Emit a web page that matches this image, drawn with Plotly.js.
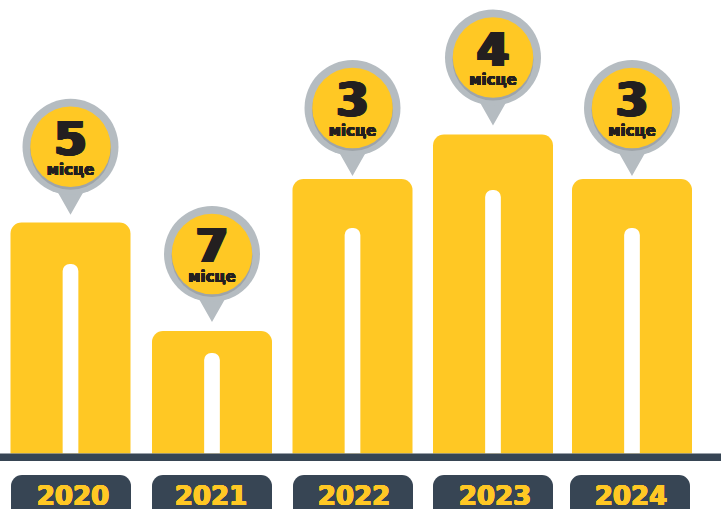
<!DOCTYPE html>
<html><head><meta charset="utf-8"><script src="https://cdn.plot.ly/plotly-3.0.1.min.js"></script>
<style>html,body{margin:0;padding:0;background:#fff}#c{width:721px;height:509px}</style></head>
<body><div id="c"></div>
<script>
const years = ['2020','2021','2022','2023','2024'];
const heights = [231, 122.5, 274.5, 319, 274.5];
const slotHeights = [189.5, 100.5, 225.5, 263.5, 225.5];
const places = ['5','7','3','4','3'];
const placeWord = 'місце';

const YELLOW='#ffc824', SLATE='#374554', GREY='#b5bcc1', GREY_D='#9ea4a9', INK='#231f20';
const PITCH=140.4, X0=71.2;
const px = p => p/PITCH;
const idx = years.map((_,i)=>i);
const barNudge=[-0.7,0.4,0.5,0.6,-0.8];
const pillNudge=[-0.2,0.4,1,0.6,-2.8];
const labelNudge=[1.8,-0.6,2,2.6,-1.8];
const pinGap=[7.7,9,3,9,3];
const bx=idx.map(i=>i+px(barNudge[i]));
const tip=idx.map(i=>heights[i]+pinGap[i]);
const tri={x:[],y:[]};
idx.forEach(i=>{tri.x.push(bx[i]-px(13.6),bx[i]+px(13.6),bx[i],bx[i]-px(13.6),null);
  tri.y.push(tip[i]+24,tip[i]+24,tip[i],tip[i]+24,null);});
const cy=idx.map(i=>tip[i]+68);
const top2={xaxis:'x2',yaxis:'y2',hoverinfo:'skip',showlegend:false};
const mark=(dy,size,color)=>({type:'scatter',mode:'markers',x:bx,y:cy.map(v=>v+dy),
  marker:{size,color,line:{width:0}},...top2});
const thick=(w,c)=>[1,0.75,0.5,0.25].flatMap(k=>[`${w*k}px 0 0 ${c}`,`-${w*k}px 0 0 ${c}`]).join(',');
const xRange=[-X0/PITCH,(721-X0)/PITCH], yRange=[-55.5,453.5];
const traces=[
 {type:'bar',x:bx,y:heights,width:px(120),marker:{color:YELLOW,cornerradius:11,line:{width:0}},hoverinfo:'x+y',showlegend:false},
 {type:'bar',x:idx.map(i=>i+px(pillNudge[i])),y:idx.map(()=>-21.5+70),base:-70,width:px(120),marker:{color:SLATE,cornerradius:11,line:{width:0}},hoverinfo:'skip',showlegend:false},
 {type:'bar',x:bx,y:slotHeights,width:px(15.7),marker:{color:'#fff',cornerradius:7.5,line:{width:0}},...top2},
 {type:'scatter',mode:'lines',x:tri.x,y:tri.y,fill:'toself',fillcolor:GREY,line:{width:0,color:GREY},...top2},
 mark(0,96,GREY),
 mark(-2.5,81,GREY_D),
 mark(0,80.5,YELLOW),
 {type:'scatter',mode:'text',x:bx,y:cy.map(v=>v+3.5),text:places,textposition:'middle center',
  textfont:{family:'DejaVu Sans',size:46,color:INK,weight:700,shadow:thick(2,INK)},...top2},
 {type:'scatter',mode:'text',x:bx,y:cy.map(v=>v-24),text:idx.map(()=>placeWord),textposition:'middle center',
  textfont:{family:'DejaVu Sans',size:15,color:INK,weight:700,shadow:thick(0.4,INK)},...top2}
];
const layout={width:721,height:509,margin:{l:0,r:0,t:0,b:0,pad:0},paper_bgcolor:'#fff',plot_bgcolor:'#fff',
 barmode:'overlay',showlegend:false,
 xaxis:{range:xRange,showgrid:false,zeroline:false,showline:false,ticks:'',
   tickmode:'array',tickvals:idx.map(i=>i+px(labelNudge[i])),ticktext:years,ticklabelposition:'inside',ticklabelstandoff:-4,
   tickangle:0,tickfont:{family:'DejaVu Sans',size:26,color:YELLOW,weight:700,shadow:thick(0.6,YELLOW)}},
 yaxis:{range:yRange,visible:false,showgrid:false,zeroline:false},
 xaxis2:{range:xRange,overlaying:'x',visible:false,showgrid:false,zeroline:false},
 yaxis2:{range:yRange,overlaying:'y',visible:false,showgrid:false,zeroline:false},
 shapes:[{type:'rect',xref:'paper',x0:0,x1:1,yref:'y',y0:-7.5,y1:0,fillcolor:SLATE,line:{width:0},layer:'above'}]
};
Plotly.newPlot('c',traces,layout,{displayModeBar:false,staticPlot:true});
</script></body></html>
